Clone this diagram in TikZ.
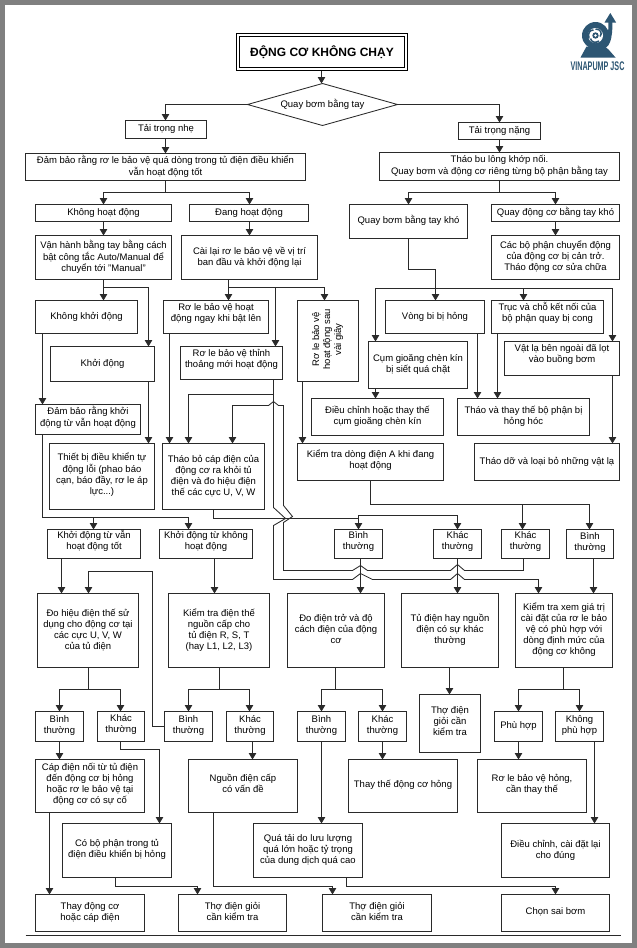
\documentclass[tikz,border=0pt]{standalone}
\usepackage{fontspec}
\usepackage{graphicx}
\setmainfont{Liberation Sans}
\usetikzlibrary{arrows.meta,shapes.geometric}
\definecolor{brandblue}{HTML}{2D5673}
\definecolor{linecol}{HTML}{2A2A2A}
% [lift]{name}{x1}{y1}{x2}{y2}{text}
\newcommand\boxat[7][0]{%
  \pgfmathsetmacro\myw{#5-#3}\pgfmathsetmacro\myh{#6-#4}%
  \pgfmathsetmacro\mycx{(#5+#3)/2}\pgfmathsetmacro\mycy{(#6+#4)/2}%
  \node[boxst,minimum width=\myw pt,minimum height=\myh pt] (#2) at (\mycx,\mycy) {\begin{tabular}{@{}c@{}}#7\\[#1pt]\end{tabular}};}
\tikzset{
  boxst/.style={draw=linecol,line width=.85pt,fill=white,align=center,inner sep=0pt,outer sep=0pt,text=black,font=\fontsize{9.5}{11}\selectfont},
  con/.style={draw=linecol,line width=.85pt},
  arr/.style={con,-{Triangle[length=6.5pt,width=7.5pt]}},
}
\begin{document}
\begin{tikzpicture}[x=1pt,y=-1pt]
\useasboundingbox (0,0) rectangle (637,948);
\fill[black!50] (0,0) rectangle (637,948);
\fill[white] (5,5) rectangle (632,943);
\begin{scope}[shift={(.5,.5)}]
\draw[linecol,line width=.85pt] (25,935) -- (620,935);

% logo
\fill[brandblue] (595,35) circle (13.5pt);
\fill[white] (595,35) circle (7.5pt);
\fill[brandblue] (595,35) circle (3.2pt);
\fill[white] (595,35) circle (1.4pt);
\draw[brandblue,line width=1.5pt] (595,28.5) .. controls (600.5,28.5) and (602,33) .. (599.5,36);
\draw[brandblue,line width=1.5pt] (588.5,38) .. controls (587,32) and (589.5,29.5) .. (593,29.5);
\draw[brandblue,line width=1.5pt] (598.5,40.5) .. controls (595,43) and (590.5,41.5) .. (590,38);
\fill[brandblue] (586,46) -- (604,46) -- (608,49) -- (615,57) -- (580,57) -- cycle;
\draw[brandblue,line width=4pt] (600,47) .. controls (607,46) and (610,41) .. (610,20);
\fill[brandblue] (609.8,12.5) -- (604,22) -- (615.6,22) -- cycle;
\node[text=brandblue,inner sep=0pt] (brand) at (597,65.5) {\scalebox{.575}[1]{\fontsize{12.5}{13}\selectfont\bfseries VINAPUMP JSC}};

% top
\node[draw=black,fill=white,line width=.8pt,double,double distance=1.8pt,minimum width=168pt,minimum height=34pt,inner sep=0pt,outer sep=2pt,font=\fontsize{12}{14}\selectfont\bfseries] (title) at (321.5,51.5) {ĐỘNG CƠ KHÔNG CHẠY};
\node[shape=diamond,draw=linecol,line width=.85pt,fill=white,aspect=3.6,minimum width=150pt,minimum height=42pt,inner sep=0pt,outer sep=0pt,font=\fontsize{9.5}{11}\selectfont] (quay) at (322,104) {Quay bơm bằng tay};

\boxat{nhe}{125}{120}{206}{138}{Tải trọng nhẹ}
\boxat{nang}{458}{122}{540}{139}{Tải trọng nặng}
\boxat{dambao}{25}{153}{305}{180}{Đảm bảo rằng rơ le bảo vệ quá dòng trong tủ điện điều khiển\\vẫn hoạt động tốt}
\boxat{thaobu}{379}{152}{619}{180}{Tháo bu lông khớp nối.\\Quay bơm và động cơ riêng từng bộ phận bằng tay}
\boxat{khonghd}{35}{204}{171}{221}{Không hoạt động}
\boxat{danghd}{189}{204}{308}{221}{Đang hoạt động}
\boxat{quaybom}{349}{204}{467}{238}{Quay bơm bằng tay khó}
\boxat{quaydc}{491}{204}{619}{221}{Quay động cơ bằng tay khó}
\boxat{vanhanh}{35}{235}{171}{279}{Vận hành bằng tay bằng cách\\bật công tắc Auto/Manual để\\chuyển tới "Manual"}
\boxat{caila}{181}{235}{317}{279}{Cài lại rơ le bảo vệ về vị trí\\ban đầu và khởi động lại}
\boxat{cacbo}{491}{235}{619}{279}{Các bộ phận chuyển động\\của động cơ bị cản trở.\\Tháo động cơ sửa chữa}

\boxat{khongkd}{35}{300}{137}{333}{Không khởi động}
\boxat{khoid}{50}{346}{154}{381}{Khởi động}
\boxat[3]{dbkhoi}{35}{404}{140}{434}{Đảm bảo rằng khởi\\động từ vẫn hoạt động}
\boxat[2]{thietbi}{49}{443}{154}{509}{Thiết bị điều khiển tự\\động lỗi (phao báo\\cạn, báo đầy, rơ le áp\\lực...)}
\boxat[6]{rlngay}{163}{300}{268}{333}{Rơ le bảo vệ hoạt\\động ngay khi bật lên}
\boxat[6]{rlthinh}{180}{346}{282}{379}{Rơ le bảo vệ thỉnh\\thoảng mới hoạt động}
\boxat{rlsau}{297}{300}{358}{381}{\rotatebox{90}{\begin{tabular}{@{}c@{}}Rơ le bảo vệ\\hoạt động sau\\vài giây\end{tabular}}}
\boxat{thaobo}{162}{443}{264}{509}{Tháo bỏ cáp điện của\\động cơ ra khỏi tủ\\điện và đo hiệu điện\\thế các cực U, V, W}
\boxat[2]{ktdong}{297}{443}{443}{480}{Kiểm tra dòng điện A khi đang\\hoạt động}

\boxat{vongbi}{385}{300}{484}{333}{Vòng bi bị hỏng}
\boxat[6]{truc}{491}{300}{603}{333}{Trục và chỗ kết nối của\\bộ phận quay bị cong}
\boxat{cum}{368}{341}{467}{388}{Cụm gioăng chèn kín\\bị siết quá chặt}
\boxat[7]{vatla}{504}{341}{619}{375}{Vật lạ bên ngoài đã lọt\\vào buồng bơm}
\boxat{dchinh}{311}{398}{443}{435}{Điều chỉnh hoặc thay thế\\cụm gioăng chèn kín}
\boxat{thaothay}{457}{398}{589}{435}{Tháo và thay thế bộ phận bị\\hỏng hóc}
\boxat{thaodo}{474}{443}{619}{480}{Tháo dỡ và loại bỏ những vật lạ}

\boxat[4]{kdvan}{47}{529}{140}{558}{Khởi động từ vẫn\\hoạt động tốt}
\boxat[4]{kdkhong}{159}{529}{252}{558}{Khởi động từ không\\hoạt động}
\boxat[4]{binh1}{334}{529}{382}{558}{Bình\\thường}
\boxat[4]{khac1}{433}{529}{481}{558}{Khác\\thường}
\boxat[4]{khac2}{501}{529}{549}{558}{Khác\\thường}
\boxat[2]{binh2}{566}{529}{613}{558}{Bình\\thường}

\boxat{dohieu}{37}{593}{138}{667}{Đo hiệu điện thế sử\\dụng cho động cơ tại\\các cực U, V, W\\của tủ điện}
\boxat{ktdien}{168}{593}{269}{667}{Kiểm tra điện thế\\nguồn cấp cho\\tủ điện R, S, T\\(hay L1, L2, L3)}
\boxat{dodien}{287}{593}{384}{667}{Đo điện trở và độ\\cách điện của động\\cơ}
\boxat{tudien}{401}{593}{498}{667}{Tủ điện hay nguồn\\điện có sự khác\\thường}
\boxat{ktxem}{515}{593}{612}{667}{Kiểm tra xem giá trị\\cài đặt của rơ le bảo\\vệ có phù hợp với\\dòng định mức của\\động cơ không}

\boxat[2]{binha}{35}{711}{83}{741}{Bình\\thường}
\boxat[3]{khaca}{97}{711}{144}{741}{Khác\\thường}
\boxat[2]{binhb}{164}{711}{212}{741}{Bình\\thường}
\boxat[2]{khacb}{226}{711}{273}{741}{Khác\\thường}
\boxat[2]{binhc}{297}{711}{345}{741}{Bình\\thường}
\boxat[2]{khacc}{358}{711}{406}{741}{Khác\\thường}
\boxat[2]{thodien}{419}{694}{480}{752}{Thợ điện\\giỏi cần\\kiểm tra}
\boxat{phuhop}{494}{711}{542}{741}{Phù hợp}
\boxat[2]{khongph}{555}{711}{603}{741}{Không\\phù hợp}

\boxat[3]{capdien}{35}{759}{144}{812}{Cáp điện nối từ tủ điện\\đến động cơ bị hỏng\\hoặc rơ le bảo vệ tại\\động cơ có sự cố}
\boxat[2]{nguon}{188}{759}{297}{812}{Nguồn điện cấp\\có vấn đề}
\boxat[1]{thaydc}{348}{759}{457}{812}{Thay thế động cơ hỏng}
\boxat[2]{rlhong}{477}{759}{586}{812}{Rơ le bảo vệ hỏng,\\cần thay thế}
\boxat[1]{cobo}{62}{823}{171}{877}{Có bộ phận trong tủ\\điện điều khiển bị hỏng}
\boxat{quatai}{253}{823}{362}{877}{Quá tải do lưu lượng\\quá lớn hoặc tỷ trọng\\của dung dịch quá cao}
\boxat{dieuchinh}{501}{823}{609}{877}{Điều chỉnh, cài đặt lại\\cho đúng}
\boxat{thaydong}{35}{894}{144}{931}{Thay động cơ\\hoặc cáp điện}
\boxat{tho2}{178}{894}{286}{931}{Thợ điện giỏi\\cần kiểm tra}
\boxat{tho3}{322}{894}{431}{931}{Thợ điện giỏi\\cần kiểm tra}
\boxat[1]{chonsai}{501}{894}{609}{931}{Chọn sai bơm}

% connectors: top
\draw[arr] (title.south -| 321,0) -- (quay.north -| 321,0);
\draw[arr] (quay.west) -- (165,104) -- (nhe.north -| 165,0);
\draw[arr] (quay.east) -- (499,104) -- (nang.north -| 499,0);
\draw[arr] (nhe.south -| 165,0) -- (dambao.north -| 165,0);
\draw[arr] (nang.south -| 499,0) -- (thaobu.north -| 499,0);
\draw[arr] (dambao.south -| 165,0) -- (165,192) -- (103,192) -- (khonghd.north -| 103,0);
\draw[arr] (dambao.south -| 165,0) -- (165,192) -- (249,192) -- (danghd.north -| 249,0);
\draw[arr] (thaobu.south -| 499,0) -- (499,192) -- (408,192) -- (quaybom.north -| 408,0);
\draw[arr] (thaobu.south -| 499,0) -- (499,192) -- (555,192) -- (quaydc.north -| 555,0);
\draw[arr] (khonghd.south -| 103,0) -- (vanhanh.north -| 103,0);
\draw[arr] (danghd.south -| 249,0) -- (caila.north -| 249,0);
\draw[arr] (quaydc.south -| 555,0) -- (cacbo.north -| 555,0);
% left column
\draw[arr] (vanhanh.south -| 103,0) -- (khongkd.north -| 103,0);
\draw[arr] (vanhanh.south -| 103,0) -- (103,287) -- (148,287) -- (khoid.north -| 148,0);
\draw[arr] (khongkd.south -| 42,0) -- (dbkhoi.north -| 42,0);
\draw[arr] (khoid.south -| 148,0) -- (thietbi.north -| 148,0);
\draw[arr] (dbkhoi.south -| 42,0) -- (42,517) -- (93,517) -- (kdvan.north -| 93,0);
\draw[arr] (dbkhoi.south -| 42,0) -- (42,517) -- (188,517) -- (kdkhong.north -| 188,0);
% relay column
\draw[arr] (caila.south -| 228,0) -- (rlngay.north -| 228,0);
\draw[arr] (caila.south -| 228,0) -- (228,287) -- (275,287) -- (rlthinh.north -| 275,0);
\draw[arr] (caila.south -| 228,0) -- (228,287) -- (324,287) -- (rlsau.north -| 324,0);
\draw[arr] (rlngay.south -| 169,0) -- (thaobo.north -| 169,0);
\draw[arr] (rlthinh.south -| 273,0) -- (273,394) -- (188,394) -- (thaobo.north -| 188,0);
\draw[arr] (rlsau.south -| 302,0) -- (ktdong.north -| 302,0);
% long crossings
\draw[arr] (rlthinh.south -| 273,0) -- (273,507) -- (285,518) -- (273,525) -- (273,579) -- (352,579) -- (360,573) -- (372,579) -- (450,579) -- (457,573) -- (464,579) -- (538,579) -- (ktxem.north -| 538,0);
\draw[arr] (khac2.south -| 523,0) -- (523,570) -- (464,570) -- (457,564) -- (450,570) -- (367,570) -- (360,565) -- (352,570) -- (283,570) -- (283,522) -- (292,516) -- (283,505) -- (283,405) -- (278,405) -- (273,401) -- (268,405) -- (232,405) -- (thaobo.north -| 232,0);
\draw[arr] (thaobo.south -| 213,0) -- (213,518) -- (358,518) -- (binh1.north -| 358,0);
\draw[arr] (358,518) -- (358,515) -- (457,515) -- (khac1.north -| 457,0);
\draw[arr] (ktdong.south -| 370,0) -- (370,504) -- (589,504) -- (binh2.north -| 589,0);
\draw[arr] (ktdong.south -| 370,0) -- (370,504) -- (522,504) -- (khac2.north -| 522,0);
% right top
\draw[con] (quaybom.south -| 408,0) -- (408,269) -- (435,269) -- (435,288);
\draw[arr] (435,288) -- (vongbi.north -| 435,0);
\draw[arr] (435,288) -- (375,288) -- (cum.north -| 375,0);
\draw[arr] (435,288) -- (523,288) -- (truc.north -| 523,0);
\draw[arr] (435,288) -- (612,288) -- (vatla.north -| 612,0);
\draw[arr] (cum.south -| 375,0) -- (dchinh.north -| 375,0);
\draw[arr] (vongbi.south -| 477,0) -- (thaothay.north -| 477,0);
\draw[arr] (truc.south -| 497,0) -- (thaothay.north -| 497,0);
\draw[arr] (vatla.south -| 612,0) -- (thaodo.north -| 612,0);
% middle row
\draw[arr] (kdvan.south -| 61,0) -- (dohieu.north -| 61,0);
\draw[arr] (kdkhong.south -| 214,0) -- (ktdien.north -| 214,0);
\draw[arr] (binh1.south -| 360,0) -- (dodien.north -| 360,0);
\draw[arr] (khac1.south -| 457,0) -- (tudien.north -| 457,0);
\draw[arr] (binh2.south -| 593,0) -- (ktxem.north -| 593,0);
\draw[arr] (binhb.west) -- (152,726) -- (152,571) -- (88,571) -- (dohieu.north -| 88,0);
% splits
\draw[arr] (dohieu.south -| 88,0) -- (88,689) -- (59,689) -- (binha.north -| 59,0);
\draw[arr] (dohieu.south -| 88,0) -- (88,689) -- (120,689) -- (khaca.north -| 120,0);
\draw[arr] (ktdien.south -| 219,0) -- (219,689) -- (188,689) -- (binhb.north -| 188,0);
\draw[arr] (ktdien.south -| 219,0) -- (219,689) -- (249,689) -- (khacb.north -| 249,0);
\draw[arr] (dodien.south -| 335,0) -- (335,689) -- (321,689) -- (binhc.north -| 321,0);
\draw[arr] (dodien.south -| 335,0) -- (335,689) -- (382,689) -- (khacc.north -| 382,0);
\draw[arr] (tudien.south -| 449,0) -- (thodien.north -| 449,0);
\draw[arr] (ktxem.south -| 563,0) -- (563,689) -- (518,689) -- (phuhop.north -| 518,0);
\draw[arr] (ktxem.south -| 563,0) -- (563,689) -- (579,689) -- (khongph.north -| 579,0);
% lower
\draw[arr] (binha.south -| 59,0) -- (capdien.north -| 59,0);
\draw[arr] (khaca.south -| 120,0) -- (120,749) -- (159,749) -- (cobo.north -| 159,0);
\draw[arr] (khacb.south -| 252,0) -- (nguon.north -| 252,0);
\draw[arr] (binhc.south -| 321,0) -- (quatai.north -| 321,0);
\draw[arr] (khacc.south -| 382,0) -- (thaydc.north -| 382,0);
\draw[arr] (phuhop.south -| 518,0) -- (rlhong.north -| 518,0);
\draw[arr] (khongph.south -| 594,0) -- (dieuchinh.north -| 594,0);
\draw[arr] (capdien.south -| 49,0) -- (thaydong.north -| 49,0);
\draw[arr] (cobo.south -| 115,0) -- (115,886) -- (197,886) -- (tho2.north -| 197,0);
\draw[arr] (nguon.south -| 213,0) -- (213,886) -- (332,886) -- (tho3.north -| 332,0);
\draw[arr] (quatai.south -| 346,0) -- (346,886) -- (555,886) -- (chonsai.north -| 555,0);
\end{scope}
\end{tikzpicture}
\end{document}
